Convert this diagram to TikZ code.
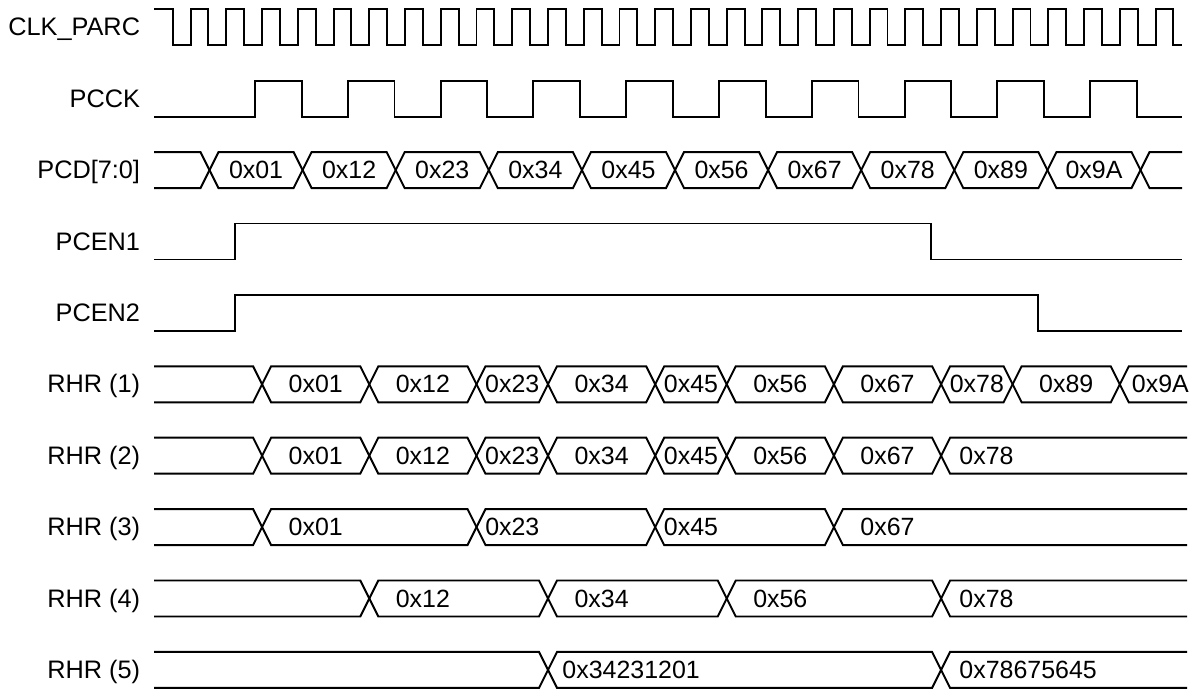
\documentclass[tikz,border=0pt]{standalone}
\usepackage{fontspec}
\setmainfont{Liberation Sans}
\usetikzlibrary{positioning, calc}

\begin{document}
\begin{tikzpicture}[x=0.02cm, y=-0.02cm, line width=1.1pt,
	lbl/.style={anchor=base east, inner sep=0pt, font=\fontsize{14.4}{16}\selectfont},
	val/.style={anchor=base, inner sep=0pt, font=\fontsize{14.2}{16}\selectfont}]
	\useasboundingbox (0,0) rectangle (1199,689);

	% signal names, one row every 71.4
	\foreach \name/\txt [count=\i from 0] in {clk/{CLK\_PARC}, pcck/PCCK, pcd/{PCD[7:0]}, pcenA/PCEN1, pcenB/PCEN2, rhrA/{RHR (1)}, rhrB/{RHR (2)}, rhrC/{RHR (3)}, rhrD/{RHR (4)}, rhrE/{RHR (5)}}
		\node[lbl] (\name) at (141, 9.3+71.4*\i+26.5) {\txt};

	% CLK_PARC
	\draw (154,9.3) \foreach \k in {0,...,27}{ -| ({172.7+35.74*\k},45.3) -| ({190.6+35.74*\k},9.3) } -| (1173.4,45.3) -- (1182,45.3);

	% PCCK
	\draw (154,116.7) \foreach \k in {0,...,9}{ -| ({255+92.8*\k},80.7) -| ({301.7+92.8*\k},116.7) } -- (1182,116.7);

	% PCD[7:0]
	\draw (154,152.1) -- (200.5,152.1) -- (209.5,170.1) -- (200.5,188.1) -- (154,188.1);
	\foreach \v [count=\k from 0] in {01,12,23,34,45,56,67,78,89,9A}{
		\pgfmathsetmacro\a{209.5+93.1*\k}
		\pgfmathsetmacro\b{\a+93.1}
		\draw (\a,170.1) -- (\a+9,152.1) -- (\b-9,152.1) -- (\b,170.1) -- (\b-9,188.1) -- (\a+9,188.1) -- cycle;
		\node[val] (pcd\v) at ({(\a+\b)/2},178.6) {0x\v};
	}
	\draw (1182,152.1) -- (1149.5,152.1) -- (1140.5,170.1) -- (1149.5,188.1) -- (1182,188.1);

	% PCEN1, PCEN2
	\draw (154,259.5) -| (235,223.5) -| (931,259.5) -- (1182,259.5);
	\draw (154,330.9) -| (235,294.9) -| (1038.3,330.9) -- (1182,330.9);

	% RHR (1)
	\begin{scope}[shift={(0,366.3)}]
		\draw (154,0) -- (253.1,0) -- (262.1,18) -- (253.1,36) -- (154,36);
		\foreach \a/\b/\v in {262.1/369.3/01, 369.3/476.5/12, 476.5/548/23, 548/655.2/34, 655.2/726.7/45, 726.7/833.9/56, 833.9/941.1/67, 941.1/1012.6/78, 1012.6/1119.8/89}{
			\draw (\a,18) -- (\a+9,0) -- (\b-9,0) -- (\b,18) -- (\b-9,36) -- (\a+9,36) -- cycle;
			\node[val] (rA\v) at ({(\a+\b)/2},26.5) {0x\v};
		}
		\draw (1187,0) -- (1128.8,0) -- (1119.8,18) -- (1128.8,36) -- (1187,36);
		\node[val, anchor=base west] (rA9A) at (1131,26.5) {0x9A};
	\end{scope}

	% RHR (2)
	\begin{scope}[shift={(0,437.7)}]
		\draw (154,0) -- (253.1,0) -- (262.1,18) -- (253.1,36) -- (154,36);
		\foreach \a/\b/\v in {262.1/369.3/01, 369.3/476.5/12, 476.5/548/23, 548/655.2/34, 655.2/726.7/45, 726.7/833.9/56, 833.9/941.1/67}{
			\draw (\a,18) -- (\a+9,0) -- (\b-9,0) -- (\b,18) -- (\b-9,36) -- (\a+9,36) -- cycle;
			\node[val] (rB\v) at ({(\a+\b)/2},26.5) {0x\v};
		}
		\draw (1187,0) -- (950.1,0) -- (941.1,18) -- (950.1,36) -- (1187,36);
		\node[val, anchor=base west] (rB78) at (958.5,26.5) {0x78};
	\end{scope}

	% RHR (3)
	\begin{scope}[shift={(0,509.1)}]
		\draw (154,0) -- (253.1,0) -- (262.1,18) -- (253.1,36) -- (154,36);
		\foreach \a/\b/\v/\m in {262.1/476.5/01/315.7, 476.5/655.2/23/512.3, 655.2/833.9/45/691}{
			\draw (\a,18) -- (\a+9,0) -- (\b-9,0) -- (\b,18) -- (\b-9,36) -- (\a+9,36) -- cycle;
			\node[val] (rC\v) at (\m,26.5) {0x\v};
		}
		\draw (1187,0) -- (842.9,0) -- (833.9,18) -- (842.9,36) -- (1187,36);
		\node[val] (rC67) at (887.5,26.5) {0x67};
	\end{scope}

	% RHR (4)
	\begin{scope}[shift={(0,580.5)}]
		\draw (154,0) -- (360.3,0) -- (369.3,18) -- (360.3,36) -- (154,36);
		\foreach \a/\b/\v/\m in {369.3/548/12/422.9, 548/726.7/34/601.6, 726.7/941.1/56/780.3}{
			\draw (\a,18) -- (\a+9,0) -- (\b-9,0) -- (\b,18) -- (\b-9,36) -- (\a+9,36) -- cycle;
			\node[val] (rD\v) at (\m,26.5) {0x\v};
		}
		\draw (1187,0) -- (950.1,0) -- (941.1,18) -- (950.1,36) -- (1187,36);
		\node[val, anchor=base west] (rD78) at (958.5,26.5) {0x78};
	\end{scope}

	% RHR (5)
	\begin{scope}[shift={(0,651.9)}]
		\draw (154,0) -- (539,0) -- (548,18) -- (539,36) -- (154,36);
		\draw (548,18) -- (557,0) -- (932.1,0) -- (941.1,18) -- (932.1,36) -- (557,36) -- cycle;
		\node[val, anchor=base west] (rE34) at (561.5,26.5) {0x34231201};
		\draw (1187,0) -- (950.1,0) -- (941.1,18) -- (950.1,36) -- (1187,36);
		\node[val, anchor=base west] (rE78) at (958.5,26.5) {0x78675645};
	\end{scope}
\end{tikzpicture}
\end{document}
